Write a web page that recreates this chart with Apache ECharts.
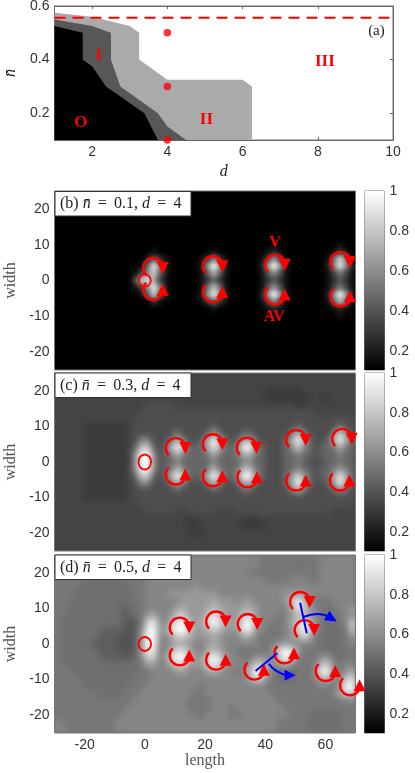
<!DOCTYPE html>
<html><head><meta charset="utf-8">
<style>html,body{margin:0;padding:0;background:#fff}#c{width:415px;height:773px;position:relative;z-index:0}</style>
<script src="https://cdn.jsdelivr.net/npm/echarts@6/dist/echarts.min.js"></script>
</head><body><div id="c"></div>
<script>
// Panel (a) phase boundaries: [d, nbar]
const regionII = [[1,.575],[2,.56],[3,.525],[3.25,.5],[3.25,.4],[4,.325],[6,.325],[6.25,.3],[6.25,.1]];
const regionI = [[1,.55],[2,.525],[2.5,.5],[2.5,.4],[2.75,.3],[3.75,.2],[4,.15],[4.5,.1]];
const regionO = [[1,.525],[1.75,.5],[1.75,.4],[2,.375],[2.37,.3],[3.39,.2],[3.75,.1]];
const criticalLine = [[1,.556],[10,.556]];
const sampled = [[4,.5],[4,.3],[4,.1]];
const phaseLabels = [[1.7,.166,'O'],[2.18,.415,'I'],[5.04,.1775,'II'],[8.19,.391,'III']];
const panelTag = [[9.56,.506,'(a)']];

// Density maps: rows top (width 24) to bottom (width -24), columns length -29..69 in steps of 2.
// Each hex digit is a level: 0 -> 0.1, f -> 1.0. Panel tables give half levels for the backgrounds.
const densityB = [
'0000000000 0000000000 0000000000 0000000000 0000000000',
'0000000000 0000000000 0000000000 0000000000 0000000000',
'0000000000 0000000000 0000000000 0000000000 0000000000',
'0000000000 0000000000 0000000000 0000000000 0000000000',
'0000000000 0000000000 0000000000 0000000000 0000000000',
'0000000000 0000000000 0000000000 0000000000 0000000000',
'0000000000 0000000000 0000000000 0000000000 0000000000',
'0000000000 0000000000 0000000000 0000001000 0000000100',
'0000000000 0000001000 0000001000 0000012100 0000001310',
'0000000000 0000025310 0000138310 0000149410 0000017d71',
'0000000000 000016e820 000029f920 000029f920 0000028e82',
'0000000000 000148c620 000016a610 0000158510 0000014741',
'0000000000 0005cda410 0000136310 0000135310 0000013531',
'0000000000 000148e820 000017b710 0000159510 0000014741',
'0000000000 000015c620 000029e920 000029f920 0000029f92',
'0000000000 0000003100 0000136310 0000148410 0000016b61',
'0000000000 0000000000 0000001000 0000012100 0000001210',
'0000000000 0000000000 0000000000 0000001000 0000000100',
'0000000000 0000000000 0000000000 0000000000 0000000000',
'0000000000 0000000000 0000000000 0000000000 0000000000',
'0000000000 0000000000 0000000000 0000000000 0000000000',
'0000000000 0000000000 0000000000 0000000000 0000000000',
'0000000000 0000000000 0000000000 0000000000 0000000000',
'0000000000 0000000000 0000000000 0000000000 0000000000',
'0000000000 0000000000 0000000000 0000000000 0000000000'];
const densityC = [
'4444444444 4444444444 4444444444 4444444444 4444444444',
'4444444444 4444444444 4444444444 4444444444 4444444444',
'4444444444 4444444444 4444444444 4444433333 3444444444',
'4444444444 4444444444 4444444444 4444433333 3344334444',
'4444444444 4444455555 4444444444 4444444444 3344444444',
'4444444444 4444555555 5555555555 5555555555 5554444444',
'4444444444 4445555555 5555555555 5555555555 5555555555',
'4444433333 3345555555 5555556555 5555555555 6555555755',
'4444433333 3345555555 7555569655 5665555557 b755558d85',
'4444433333 3345885557 b7556afa65 6aa655556a fa6556afa6',
'4444433333 3346cc656b fb666aea66 8ff8655568 c865667a76',
'4444433333 3349ff9567 b76667a766 7aa7655566 8665666866',
'4444433333 3339ff9566 8666668666 6886655566 7655566766',
'4444433333 3349ff9567 b76667b766 7bb7655566 8665667976',
'4444433333 3346cc656b fb666bfb66 8ff8655569 d96566aea6',
'4444433333 3345885557 a75557b755 6aa655556a fa65569f96',
'4444433333 3345555555 6555556555 5665555557 a755556865',
'4444433333 3345555555 5555555555 5555555555 5555555555',
'4444444444 4444555555 5555555555 5555555555 5555555555',
'4444444444 4444455555 4455555444 5555555555 5555554444',
'4444444444 4444444444 4433444444 4333444444 4444444444',
'4444444444 4444444444 4433444444 4333344444 4444444444',
'4444444444 4444444444 4433344444 4444444444 4444444444',
'4444444444 4444444444 4444444444 4444444444 4444444444',
'4444444444 4444444444 4444444444 4444444444 4444444444'];
const densityD = [
'7777777777 7777888888 8888888888 8888777777 7777888888',
'7777777777 7777888888 8888888888 8888777777 6777888888',
'7777777777 7777788888 8888888888 8877777777 7777888888',
'7777766666 6677788888 8888888888 8888877778 8877888888',
'7777666666 6667788888 8889888888 8888888888 8888888888',
'7776666666 6667788889 9999999888 8888888899 9988888888',
'7776666666 6667788888 899999a999 899888889b fb87778888',
'7766666666 6566788888 aa999aba99 9aa988888a ec98777889',
'7766666666 655679a889 cc999beb99 9cc9888789 bb98777789',
'7666666666 65457ce98b eeb9adfda9 aefa88778a ceb876678c',
'7666666655 55458ef99d ffc99bcb99 9ee9877789 cfc876667c',
'7666666555 54459ff98a cca999a988 8aa8777789 ada7666679',
'7666665555 44459ff889 aa9889a988 8888778999 8887666678',
'7666666555 54459ee88b dda88aba88 7777779dfd 9777766677',
'7666666655 55568cc89d ffb99dfd98 8779988cfc 8777997677',
'7766666666 666679988a cc999cec98 889cc989a8 7778cc8788',
'7776666666 6666778888 998889a988 78bfe97666 7779fe879a',
'7777666666 6667778888 8888888888 889cb87666 7778aa88cd',
'7777766666 6677788888 8888788888 8888877777 77778779ff',
'7777777666 6777888888 8887788888 8888887777 7777778acc',
'7777777777 7778888888 8877778888 8888888777 7777777788',
'7777777777 7788888888 8877778887 8888888877 7777777777',
'7777777777 7888888888 8887788887 7888888887 7766666677',
'8777777777 8888888888 8888888888 8888888777 7766666677',
'8877777777 8888888888 8888888888 8888888777 7766666677'];
const halfLevelsB = {};
const halfLevelsC = {'3':3.5,'5':4.6};
const halfLevelsD = {'4':4.8,'5':5.6,'6':6.5,'8':7.8};

// Vortices: [length, width, sign]  +1 V (upper), -1 AV (lower)
const vorticesB = [[2.8,3.5,1],[2.8,-2.6,-1],[22.6,4,1],[22.6,-3.2,-1],[43.3,4.4,1],[43.3,-3.9,-1],[65,5.2,1],[65,-4.4,-1]];
const vorticesC = [[10.3,3.9,1],[10.3,-3.5,-1],[22.6,5,1],[22.6,-4,-1],[33.9,4,1],[34.1,-4.3,-1],[50.3,6.2,1],[50.3,-5.2,-1],[65.6,6.5,1],[64.8,-5.2,-1]];
const vorticesD = [[11.6,4.6,1],[11.6,-3.2,-1],[23.7,6.3,1],[23.7,-4.4,-1],[34.2,5.6,1],[51.6,11.8,1],[53.1,3.9,1],[46.4,-2.6,-1],[36.4,-7.2,-1],[60.1,-7.6,-1],[68.2,-11.6,-1]];
const obstacle = [[0,0]];
const vLabels = [[43.3,10.6,'V'],[43,-10.2,'AV']];
const pairLines = [[51.6,11.6,53.8,3.0],[36.8,-7.6,44,-2.6]];
const pairPaths = [[52.7,7.6,57.9,9.3,61.2,7.6,63.8,6.3],[41.2,-5.6,43.4,-8.1,47.3,-8.8,50.1,-8.8]];

const xTicksA = [2,4,6,8,10], yTicksA = [.2,.4,.6];
const xTicks = [-20,0,20,40,60], yTicks = [-20,-10,0,10,20];
const barTicks = [.2,.4,.6,.8,1];
const titles = [['b','0.1'],['c','0.3'],['d','0.5']];
const heatBackdrop = ['#000000','#444444','#777777'];

const SANS='"Liberation Sans"', SERIF='"Liberation Serif"', RED='#ff0000', BLUE='#0000ff', INK='#333';
const heatX = Array.from({length:50},(_,i)=>String(-29+2*i));
const heatY = Array.from({length:25},(_,i)=>String(-24+2*i));
function cells(rows,half){const out=[];rows.forEach((r,j)=>{r.replace(/ /g,'').split('').forEach((c,i)=>{const lv=half[c]!==undefined?half[c]:parseInt(c,16);out.push([i,24-j,0.1+0.06*lv]);});});return out;}

const gridsPx=[[54.5,6,338.5,134],[54.5,191,301,179],[54.5,373,301,178],[54.5,555,301,178],[364.5,191,20,179],[364.5,373,20,178],[364.5,555,20,178]];
const grid=gridsPx.map((g,i)=>({left:g[0],top:g[1],width:g[2],height:g[3],outerBoundsMode:'none',containLabel:false,show:true,borderColor:'#777',borderWidth:1,backgroundColor:'transparent'}));
const lab={color:INK,fontFamily:SANS,fontSize:14,margin:5};
const lineOn={show:true,lineStyle:{color:'#666',width:1}};
const xAxis=[
 {type:'value',gridIndex:0,min:1,max:10,splitLine:{show:false},axisLine:lineOn,axisTick:{inside:true,length:3,customValues:xTicksA,lineStyle:{color:'#666'}},axisLabel:{...lab,customValues:xTicksA},name:'d',nameLocation:'middle',nameGap:24,nameTextStyle:{fontFamily:SERIF,fontStyle:'italic',fontSize:16,color:'#222'}},
 {type:'value',gridIndex:0,position:'top',min:1,max:10,splitLine:{show:false},axisLine:lineOn,axisTick:{inside:true,length:3,customValues:xTicksA,lineStyle:{color:'#666'}},axisLabel:{show:false}}
];
const yAxis=[
 {type:'value',gridIndex:0,min:.1,max:.6,splitLine:{show:false},axisLine:lineOn,axisTick:{inside:true,length:3,customValues:yTicksA,lineStyle:{color:'#666'}},axisLabel:{...lab,customValues:yTicksA,formatter:v=>v.toFixed(1)},name:'n\u0304',nameLocation:'middle',nameGap:29,nameTextStyle:{fontFamily:SERIF,fontStyle:'italic',fontSize:16,color:'#222'}},
 {type:'value',gridIndex:0,position:'right',min:.1,max:.6,splitLine:{show:false},axisLine:lineOn,axisTick:{inside:true,length:3,customValues:yTicksA,lineStyle:{color:'#666'}},axisLabel:{show:false}}
];
[1,2,3].forEach(g=>{
 xAxis.push({type:'value',gridIndex:g,min:-30,max:70,z:5,splitLine:{show:false},axisLine:{show:false},axisTick:{show:false,customValues:xTicks},axisLabel:{...lab,show:g===3,customValues:xTicks},
   name:g===3?'length':'',nameLocation:'middle',nameGap:15,nameTextStyle:{fontFamily:SERIF,fontSize:16,color:'#555'}});
 yAxis.push({type:'value',gridIndex:g,min:-25,max:25,z:5,splitLine:{show:false},axisLine:{show:false},axisTick:{show:false,customValues:yTicks},axisLabel:{...lab,customValues:yTicks},
   name:'width',nameLocation:'middle',nameGap:34,nameTextStyle:{fontFamily:SERIF,fontSize:16,color:'#555'}});
});
[1,2,3].forEach(g=>{
 xAxis.push({type:'category',gridIndex:g,data:heatX,show:false});
 yAxis.push({type:'category',gridIndex:g,data:heatY,show:false});
});
[4,5,6].forEach(g=>{
 xAxis.push({type:'category',gridIndex:g,data:[''],show:false});
 yAxis.push({type:'value',gridIndex:g,position:'right',min:.104,max:1,splitLine:{show:false},axisLine:{show:false},
   axisTick:{show:true,inside:true,length:3,customValues:barTicks,lineStyle:{color:'#666'}},axisLabel:{...lab,customValues:barTicks,formatter:v=>v===1?'1':v.toFixed(1)}});
});

function textSeries(xi,yi,data,font,fill){
 return {type:'custom',xAxisIndex:xi,yAxisIndex:yi,z:20,silent:true,clip:false,encode:{x:0,y:1},data:data.map(d=>[d[0],d[1]]),
  renderItem(p,api){const c=api.coord([api.value(0),api.value(1)]);
   return {type:'text',style:{text:data[p.dataIndex][2],x:c[0],y:c[1],align:'center',verticalAlign:'middle',font:font,fill:fill}};}};
}
function vortexSeries(xi,yi,data){
 return {type:'custom',xAxisIndex:xi,yAxisIndex:yi,z:15,silent:true,clip:false,encode:{x:0,y:1},data,
  renderItem(p,api){
   const c=api.coord([api.value(0),api.value(1)]),s=api.value(2),r=10,a=135*Math.PI/180;
   const arc=s>0?{cx:c[0],cy:c[1],r,startAngle:a,endAngle:2*Math.PI,clockwise:true}:{cx:c[0],cy:c[1],r,startAngle:-a,endAngle:-2*Math.PI,clockwise:false};
   return {type:'group',children:[
    {type:'arc',shape:arc,style:{stroke:RED,lineWidth:2.4,fill:null}},
    {type:'polygon',shape:{points:[[c[0]+3.5,c[1]-s*6],[c[0]+15.5,c[1]-s*6],[c[0]+9.5,c[1]+s*6]]},style:{fill:RED}}
   ]};}};
}
function ringSeries(xi,yi,rx,ry){
 return {type:'custom',xAxisIndex:xi,yAxisIndex:yi,z:15,silent:true,clip:false,encode:{x:0,y:1},data:obstacle,
  renderItem(p,api){const c=api.coord([api.value(0),api.value(1)]);
   return {type:'ellipse',shape:{cx:c[0],cy:c[1],rx,ry},style:{stroke:RED,lineWidth:1.8,fill:null}};}};
}
function areaSeries(d,col){return {type:'line',xAxisIndex:0,yAxisIndex:0,data:d,symbol:'none',lineStyle:{width:0},areaStyle:{color:col,opacity:1,origin:'start'},z:2,silent:true};}

const series=[
 areaSeries(regionII,'#aaaaaa'),areaSeries(regionI,'#575757'),areaSeries(regionO,'#000000'),
 {type:'line',xAxisIndex:0,yAxisIndex:0,data:criticalLine,symbol:'none',lineStyle:{color:RED,width:2,type:[11,7]},z:6,silent:true},
 {type:'scatter',xAxisIndex:0,yAxisIndex:0,data:sampled,symbol:'circle',symbolSize:7.5,itemStyle:{color:RED},z:7,clip:false,silent:true},
 textSeries(0,0,phaseLabels,'bold 17px "Liberation Serif"',RED),
 textSeries(0,0,panelTag,'15px "Liberation Serif"','#222')
];
const heatStart=series.length;
[[densityB,halfLevelsB],[densityC,halfLevelsC],[densityD,halfLevelsD]].forEach((d,k)=>series.push({type:'heatmap',xAxisIndex:5+k,yAxisIndex:5+k,data:cells(d[0],d[1]),z:2,zlevel:k-3,silent:true,progressive:0,itemStyle:{borderWidth:0}}));
// backdrop on each density layer so that softening does not fade at the panel edge
[0,1,2].forEach(k=>series.push({type:'custom',xAxisIndex:5+k,yAxisIndex:5+k,z:1,zlevel:k-3,silent:true,clip:false,data:[[0,0]],
 renderItem(p){const g=p.coordSys;return {type:'rect',shape:{x:g.x-16,y:g.y-16,width:g.width+32,height:g.height+32},style:{fill:heatBackdrop[k]}};}}));
series.push(vortexSeries(2,2,vorticesB),ringSeries(2,2,6,6.3),textSeries(2,2,vLabels,'bold 16px "Liberation Serif"',RED));
series.push(vortexSeries(3,3,vorticesC),ringSeries(3,3,6.3,7.5));
series.push(vortexSeries(4,4,vorticesD),ringSeries(4,4,6.3,7));
series.push({type:'custom',xAxisIndex:4,yAxisIndex:4,z:16,silent:true,clip:false,encode:{x:0,y:1},data:pairLines,
 renderItem(p,api){const a=api.coord([api.value(0),api.value(1)]),b=api.coord([api.value(2),api.value(3)]);
  return {type:'line',shape:{x1:a[0],y1:a[1],x2:b[0],y2:b[1]},style:{stroke:BLUE,lineWidth:2}};}});
series.push({type:'custom',xAxisIndex:4,yAxisIndex:4,z:16,silent:true,clip:false,encode:{x:0,y:1},data:pairPaths,
 renderItem(p,api){const P=i=>api.coord([api.value(i),api.value(i+1)]);const a=P(0),c=P(2),e=P(4),t=P(6);
  const dx=t[0]-e[0],dy=t[1]-e[1],l=Math.hypot(dx,dy),nx=-dy/l,ny=dx/l,w=5.5;
  return {type:'group',children:[
   {type:'bezierCurve',shape:{x1:a[0],y1:a[1],cpx1:c[0],cpy1:c[1],x2:e[0],y2:e[1]},style:{stroke:BLUE,lineWidth:2,fill:null}},
   {type:'polygon',shape:{points:[[t[0],t[1]],[e[0]-dx*.3+nx*w,e[1]-dy*.3+ny*w],[e[0]-dx*.3-nx*w,e[1]-dy*.3-ny*w]]},style:{fill:BLUE}}
  ]};}});
[0,1,2].forEach(k=>series.push({type:'bar',xAxisIndex:8+k,yAxisIndex:8+k,data:[1],barWidth:'100%',silent:true,
 itemStyle:{color:new echarts.graphic.LinearGradient(0,1,0,0,[{offset:0,color:'#000'},{offset:1,color:'#fff'}])}}));

const tops=[191,372.5,554.5];
const graphic=[];
titles.forEach((t,k)=>{
 graphic.push({type:'rect',left:54.5,top:tops[k],z:100,shape:{width:136,height:24.5},style:{fill:'#fff',stroke:'#333',lineWidth:1}});
 graphic.push({type:'text',left:60,top:tops[k]+5,z:101,style:{text:'{r|('+t[0]+') }{i|n\u0304}{r|\u2009 = \u2009'+t[1]+', }{i|d}{r|\u2009 = \u2009'+'4}',
   rich:{r:{fontFamily:SERIF,fontSize:16,fill:'#222'},i:{fontFamily:SERIF,fontStyle:'italic',fontSize:16,fill:'#222'}}}});
});

const chart=echarts.init(document.getElementById('c'),null,{renderer:'canvas'});
chart.setOption({animation:false,backgroundColor:'transparent',grid,xAxis,yAxis,series,graphic,
 visualMap:[{show:false,type:'continuous',min:.1,max:1,seriesIndex:[heatStart,heatStart+1,heatStart+2],dimension:2,inRange:{color:['#000','#fff']}}]});
function softenDensityLayers(){
 [1,2,3].forEach((g,k)=>{
  const cv=chart.getDom().querySelector('canvas[data-zr-dom-id="zr_'+(k-3)+'"]');
  if(!cv) return;
  const r=gridsPx[g];
  cv.style.filter='blur('+(k===0?2.5:3)+'px)';
  cv.style.clipPath='inset('+r[1]+'px '+(415-r[0]-r[2])+'px '+(773-r[1]-r[3])+'px '+r[0]+'px)';
 });
}
softenDensityLayers();
chart.on('finished',softenDensityLayers);
</script></body></html>
